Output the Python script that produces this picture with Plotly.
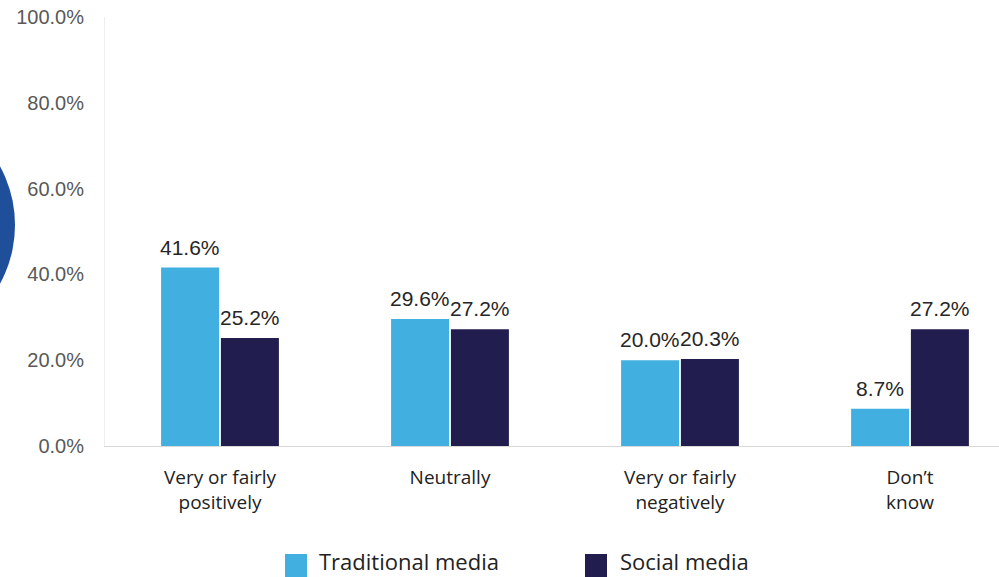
import plotly.graph_objects as go

CATEGORIES = ["Very or fairly<br>positively", "Neutrally", "Very or fairly<br>negatively", "Don’t<br>know"]
TRADITIONAL = [41.6, 29.6, 20.0, 8.7]
SOCIAL = [25.2, 27.2, 20.3, 27.2]
SERIES_NAMES = ["Traditional media", "Social media"]
Y_TICKS = [0, 20, 40, 60, 80, 100]

LIGHT_BLUE = "#41B0E1"
NAVY = "#221D4F"

W, H = 999, 577
L, R, T, B = 105, 0, 17, 131
PLOT_W = W - L - R
PLOT_H = H - T - B
BARGAP = 0.48


def px_x(x):
    return (x - L) / PLOT_W


def px_y(y):
    return (H - B - y) / PLOT_H


fig = go.Figure()
idx = list(range(len(CATEGORIES)))
half = (1 - BARGAP) / 4  # offset of each bar centre from the category centre
series = [(SERIES_NAMES[0], TRADITIONAL, LIGHT_BLUE, -half), (SERIES_NAMES[1], SOCIAL, NAVY, half)]
for name, vals, color, off in series:
    fig.add_bar(x=idx, y=vals, name=name, marker_color=color, marker_line_width=0, showlegend=False)
    for i, v in zip(idx, vals):
        fig.add_annotation(x=i + off, y=v, text=f"{v:.1f}%", showarrow=False,
                           yanchor="bottom", yshift=7,
                           font=dict(family="Liberation Sans, Arial", size=21, color="#262626"))

# decorative arc on the left edge
fig.add_shape(type="circle", xref="paper", yref="paper",
              x0=px_x(-240), x1=px_x(15), y0=px_y(350), y1=px_y(100),
              fillcolor="#1F4E9A", line_width=0, layer="above")

# manual legend
legend_items = [(285, 317, SERIES_NAMES[0], LIGHT_BLUE), (585, 618, SERIES_NAMES[1], NAVY)]
for sx, tx, name, color in legend_items:
    fig.add_shape(type="rect", xref="paper", yref="paper",
                  x0=px_x(sx), x1=px_x(sx + 22), y0=px_y(577), y1=px_y(554),
                  fillcolor=color, line_width=0)
    fig.add_annotation(text=name, xref="paper", yref="paper", x=px_x(tx), y=px_y(561),
                       xanchor="left", yanchor="middle", showarrow=False,
                       font=dict(family="Open Sans", size=22, color="#222222"))

fig.update_layout(
    width=W, height=H,
    margin=dict(l=L, r=R, t=T, b=B),
    paper_bgcolor="white", plot_bgcolor="white",
    barmode="group", bargap=BARGAP, bargroupgap=0.03,
    showlegend=False,
)
fig.update_xaxes(
    tickvals=idx, ticktext=CATEGORIES, range=[-0.5, -0.5 + PLOT_W / 230],
    showgrid=False, showline=True, linecolor="#d9d9d9", linewidth=1,
    tickfont=dict(family="Open Sans", size=19, color="#222222"), ticks="",
    zeroline=False, ticklabelstandoff=14,
)
fig.update_yaxes(
    range=[0, 100], tickvals=Y_TICKS, ticktext=[f"{v:.1f}%" for v in Y_TICKS],
    showgrid=False, zeroline=False, showline=True, linecolor="#eeeeee", mirror=True,
    tickfont=dict(family="Liberation Sans, Arial", size=20, color="#595959"),
    ticks="", ticklabelstandoff=16,
)

fig.write_html("out.html", config={"displayModeBar": False},
               post_script="document.body.style.margin='0';")
